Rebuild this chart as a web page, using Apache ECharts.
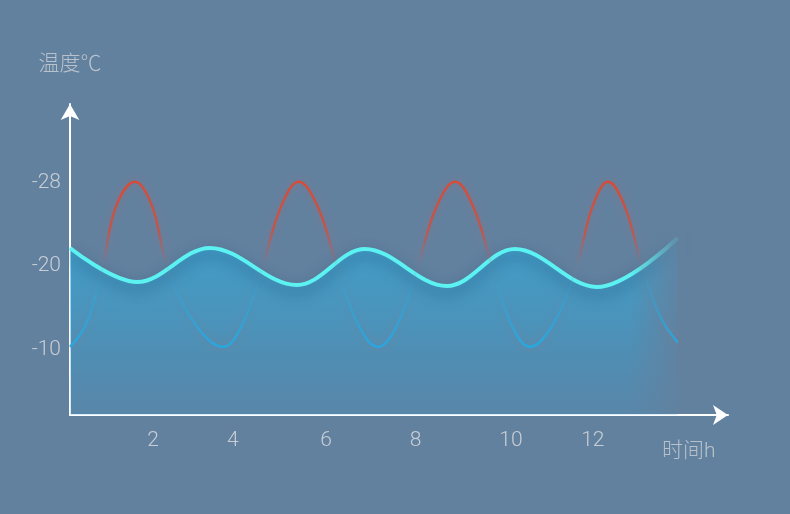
<!DOCTYPE html>
<html>
<head>
<meta charset="utf-8">
<script src="https://cdn.jsdelivr.net/npm/echarts@6/dist/echarts.min.js"></script>
<style>
html,body{margin:0;padding:0;background:#62819f;}
#chart{width:790px;height:514px;}
</style>
</head>
<body>
<div id="chart"></div>
<script>
// x positions in hours-like units, temperatures in axis level units
var xTickPos = [1.92, 3.76, 5.91, 7.98, 10.18, 12.07];
var xTickLabels = ['2', '4', '6', '8', '10', '12'];
var yTickPos = [10, 20, 30];
var yTickLabels = ['-10', '-20', '-28'];

var thinX = [0, 0.38, 0.76, 1.06, 1.5, 1.9, 2.24, 2.88, 3.53, 3.99, 4.45, 4.87, 5.28, 5.72, 6.16, 6.64, 7.11, 7.57, 8.03, 8.46, 8.89, 9.31, 9.74, 10.18, 10.62, 11.16, 11.70, 12.06, 12.42, 12.81, 13.2, 13.62, 14.03];
var thinY = [10.3, 13.1, 20, 27.1, 30.1, 27.1, 20, 13.1, 10.3, 13.1, 20, 27.1, 30.1, 27.1, 20, 13.1, 10.3, 13.1, 20, 27.1, 30.1, 27.1, 20, 13.1, 10.3, 13.1, 20, 27.1, 30.1, 27.1, 20, 14.0, 10.8];

var waveX = [0, 1.55, 3.23, 5.24, 6.81, 8.70, 10.27, 12.16, 14.03];
var waveY = [22.16, 18.08, 22.16, 17.72, 22.04, 17.6, 22.04, 17.48, 23.36];

function pairs(xs, ys) { return xs.map(function (x, i) { return [x, ys[i]]; }); }
function labelFor(pos, labels) {
  return function (v) {
    var best = 0, d = Infinity;
    for (var i = 0; i < pos.length; i++) { var dd = Math.abs(pos[i] - v); if (dd < d) { d = dd; best = i; } }
    return d < 0.01 ? labels[best] : '';
  };
}

var bg = '#62819f';
var chart = echarts.init(document.getElementById('chart'));
var font = 'Roboto, "Noto Sans CJK SC", sans-serif';
chart.setOption({
  backgroundColor: bg,
  animation: false,
  grid: { left: 70, right: 62, top: 104, bottom: 99 },
  xAxis: {
    type: 'value', min: 0, max: 15.19,
    name: '时间h', nameLocation: 'end', nameGap: -66,
    nameTextStyle: { color: '#b9c2cc', fontSize: 21, fontFamily: font, fontWeight: 300, verticalAlign: 'top', align: 'left', padding: [26, 0, 0, 0] },
    axisLine: { symbol: ['none', 'arrow'], symbolSize: [15, 15], lineStyle: { color: '#ffffff', width: 2 } },
    axisTick: { show: false },
    splitLine: { show: false },
    axisLabel: { customValues: xTickPos, formatter: labelFor(xTickPos, xTickLabels), color: '#c9ced4', fontSize: 21, fontFamily: font, fontWeight: 300, margin: 15 }
  },
  yAxis: {
    type: 'value', min: 2.11, max: 39.45,
    name: '温度℃', nameLocation: 'end', nameGap: 29,
    nameTextStyle: { color: '#b9c2cc', fontSize: 21, fontFamily: font, fontWeight: 300 },
    axisLine: { show: true, symbol: ['none', 'arrow'], symbolSize: [14, 16], lineStyle: { color: '#ffffff', width: 2 } },
    axisTick: { show: false },
    splitLine: { show: false },
    axisLabel: { customValues: yTickPos, formatter: labelFor(yTickPos, yTickLabels), color: '#c9ced4', fontSize: 21, fontFamily: font, fontWeight: 300, margin: 9 }
  },
  series: [
    {
      type: 'line', z: 4,
      data: pairs(thinX, thinY),
      smooth: 0.4, showSymbol: false, symbol: 'none',
      lineStyle: {
        width: 2.5,
        color: new echarts.graphic.LinearGradient(0, 0, 0, 1, [
          { offset: 0, color: 'rgba(214,76,56,1)' },
          { offset: 0.3, color: 'rgba(205,80,64,0.85)' },
          { offset: 0.5, color: 'rgba(190,90,90,0.05)' },
          { offset: 0.62, color: 'rgba(40,170,225,0.15)' },
          { offset: 1, color: 'rgba(38,168,225,1)' }
        ]),
        shadowColor: 'rgba(200,90,90,0.35)', shadowBlur: 10
      }
    },
    {
      type: 'line', z: 2,
      data: pairs(waveX, waveY),
      smooth: 0.36, showSymbol: false, symbol: 'none',
      lineStyle: {
        width: 4,
        color: '#5cf2f2',
        shadowColor: 'rgba(20,60,100,0.55)', shadowBlur: 14, shadowOffsetY: 6
      },
      areaStyle: {
        color: new echarts.graphic.LinearGradient(0, 0, 0, 1, [
          { offset: 0, color: 'rgba(45,175,225,0.9)' },
          { offset: 0.5, color: 'rgba(45,170,222,0.6)' },
          { offset: 1, color: 'rgba(45,160,215,0.25)' }
        ])
      }
    }
  ]
});

// soft fade of the filled wave's right end, placed through the axis scales
var fadeStart = chart.convertToPixel({ gridIndex: 0 }, [waveX[waveX.length - 1] - 1.1, 27]);
var fadeEnd = chart.convertToPixel({ gridIndex: 0 }, [waveX[waveX.length - 1] + 0.2, 2.3]);
chart.setOption({
  graphic: [{
    type: 'rect', z: 3, silent: true,
    shape: { x: fadeStart[0], y: fadeStart[1], width: fadeEnd[0] - fadeStart[0], height: fadeEnd[1] - fadeStart[1] },
    style: {
      fill: new echarts.graphic.LinearGradient(0, 0, 1, 0, [
        { offset: 0, color: 'rgba(98,129,159,0)' },
        { offset: 0.75, color: 'rgba(98,129,159,0.8)' },
        { offset: 1, color: 'rgba(98,129,159,1)' }
      ])
    }
  }]
});
</script>
</body>
</html>
